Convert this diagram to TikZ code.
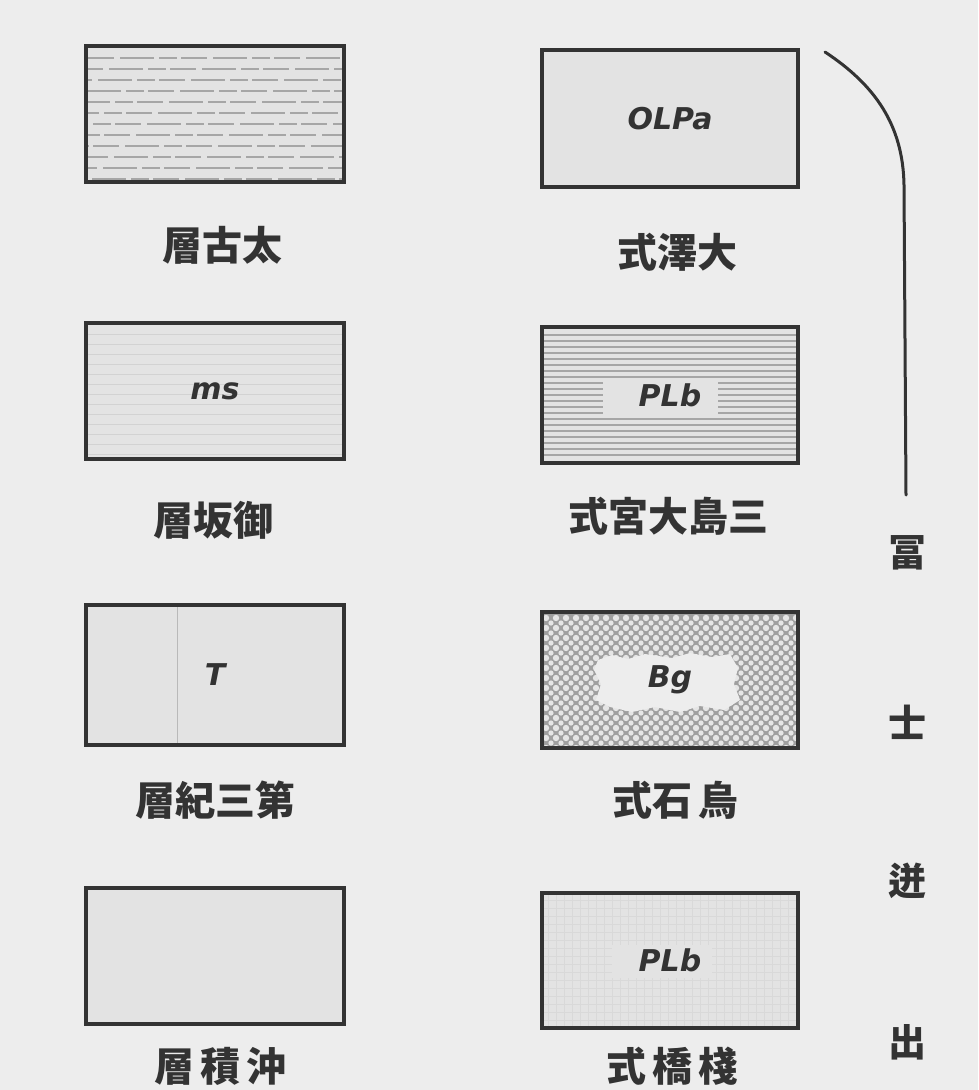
\documentclass[tikz,border=0pt]{standalone}
\usepackage{fontspec}
\newfontfamily\cjk{Noto Sans CJK JP}
\newfontfamily\lab{DejaVu Sans}
\definecolor{paper}{HTML}{EDEDED}
\definecolor{boxbg}{HTML}{E3E3E3}
\definecolor{ink}{HTML}{333333}
\tikzset{
  legbox/.style={draw=ink, line width=4pt, minimum width=258pt, minimum height=136pt, inner sep=0pt,
    font=\lab\bfseries\itshape\fontsize{30}{30}\selectfont, text=ink},
  captxt/.style={font=\cjk\bfseries\fontsize{40}{40}\selectfont, text=ink, inner sep=0pt},
  vchar/.style={font=\cjk\bfseries\fontsize{38}{38}\selectfont, text=ink, inner sep=0pt},
}
\begin{document}
\begin{tikzpicture}[x=1pt,y=-1pt]
\useasboundingbox (0,0) rectangle (978,1090);
\fill[paper] (0,0) rectangle (978,1090);

% ---------- backgrounds of boxes
\fill[boxbg] (85,45) rectangle (345,183);
\fill[boxbg] (85,322) rectangle (345,460);
\fill[boxbg] (85,605) rectangle (345,745);
\fill[boxbg] (85,887) rectangle (345,1025);
\fill[boxbg] (542,50) rectangle (798,187);
\fill[boxbg] (542,327) rectangle (798,463);
\fill[gray!75] (542,612) rectangle (798,748);
\fill[boxbg] (542,893) rectangle (798,1028);

% ---------- patterns
% L1 dashed horizontal lines
\begin{scope}
\clip (85,45) rectangle (345,183);
\foreach \y in {58,69,...,180}{
  \draw[gray!70, line width=1.4pt, dash pattern=on 34pt off 5pt on 18pt off 4pt on 26pt off 6pt, dash phase=\y] (85,\y) -- (345,\y);
}
\end{scope}
% L2 faint horizontal lines
\begin{scope}
\clip (85,322) rectangle (345,460);
\foreach \y in {334,344,...,455}{
  \draw[gray!35, line width=1pt] (85,\y) -- (345,\y);
}
\end{scope}
% L3 faint vertical lines
\begin{scope}
\clip (85,605) rectangle (345,745);
\foreach \x in {92,99,...,342}{
  \draw[gray!22, line width=0.8pt] (\x,605) -- (\x,745);
}
\draw[gray!55, line width=0.8pt] (177,605) -- (177,745);
\end{scope}
% R2 dense horizontal lines with blank around label
\begin{scope}
\clip (542,327) rectangle (798,463);
\foreach \y in {335,341,...,460}{
  \draw[gray!70, line width=1.4pt] (542,\y) -- (798,\y);
}
\fill[boxbg] (603,380) rectangle (718,417);
\end{scope}
% R3 cross-hatch with white blob
\begin{scope}
\clip (542,612) rectangle (798,748);
\foreach \x in {546,556,...,798}{
  \foreach \y in {618,628,...,748}{
    \fill[gray!20] (\x,\y) circle (3.2pt);
    \fill[gray!20] (\x+5,\y+5) circle (2.6pt);
  }
}
\fill[paper] (598,660) -- (612,655) -- (628,659) -- (645,654) -- (672,658) -- (690,653) -- (712,657) -- (730,654) -- (738,668) -- (734,684) -- (740,700) -- (724,710) -- (700,706) -- (680,712) -- (655,707) -- (632,712) -- (610,707) -- (596,700) -- (601,684) -- (594,670) -- cycle;
\end{scope}
% R4 fine grid
\begin{scope}
\clip (542,893) rectangle (798,1028);
\foreach \x in {548,556,...,798}{
  \draw[gray!30, line width=0.8pt] (\x,893) -- (\x,1028);
}
\foreach \y in {900,908,...,1028}{
  \draw[gray!30, line width=0.8pt] (542,\y) -- (798,\y);
}
\fill[boxbg] (612,945) rectangle (712,978);
\end{scope}

% ---------- boxes (frames and symbols)
\node[legbox] (L1) at (215,114) {};
\node[legbox] (L2) at (215,391) {\textit{ms}};
\node[legbox, minimum height=140pt] (L3) at (215,675) {T};
\node[legbox] (L4) at (215,956) {};
\node[legbox, minimum width=256pt, minimum height=137pt] (R1) at (670,118.5) {OLPa};
\node[legbox, minimum width=256pt, minimum height=136pt] (R2) at (670,395) {PLb};
\node[legbox, minimum width=256pt, minimum height=136pt] (R3) at (670,680) {Bg};
\node[legbox, minimum width=256pt, minimum height=135pt] (R4) at (670,960.5) {PLb};

% ---------- captions
\node[captxt] (c1) at (222,245) {層古太};
\node[captxt] (c2) at (213,520) {層坂御};
\node[captxt] (c3) at (215,800) {層紀三第};
\node[captxt] (c4) at (220,1066) {層\hspace{6pt}積\hspace{6pt}沖};
\node[captxt] (d1) at (677,252) {式澤大};
\node[captxt] (d2) at (668,516) {式宮大島三};
\node[captxt] (d3) at (675,800) {式石\hspace{6pt}烏};
\node[captxt] (d4) at (672,1066) {式\hspace{6pt}橋\hspace{6pt}棧};

% ---------- vertical title and bracket line
\node[vchar] (v1) at (907,553) {冨};
\node[vchar] (v2) at (907,722) {士};
\node[vchar] (v3) at (907,881) {迸};
\node[vchar] (v4) at (907,1042) {出};
\coordinate (bTop) at (825,52);
\coordinate (bBot) at (906,495);
\draw[ink, line width=3pt, line cap=round] (bTop) .. controls (875,85) and (903,125) .. (904,185) -- (bBot);
\end{tikzpicture}
\end{document}
